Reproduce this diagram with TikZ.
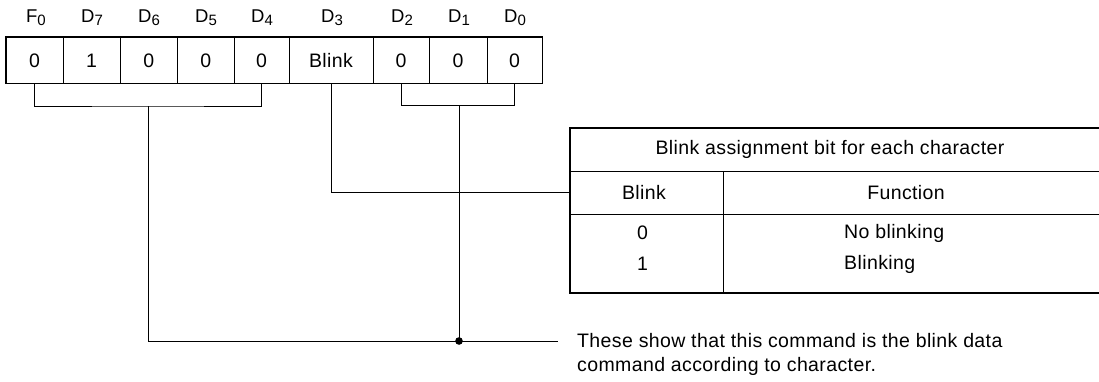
\documentclass[tikz,border=0pt]{standalone}
\usepackage{fontspec}
\setmainfont{Liberation Sans}[LetterSpace=2]
\newcommand\bitlbl[2]{#1\raisebox{-2.8pt}{\fontsize{15}{15}\selectfont #2}}
\begin{document}
\begin{tikzpicture}[x=1pt,y=-1pt,
  thin line/.style={line width=0.85pt},
  thick line/.style={line width=1.8pt},
  bitcell/.style={draw,thin line,inner sep=0pt,minimum height=45.3pt,anchor=center,font=\fontsize{19.5}{22}\selectfont},
  bitlabel/.style={inner sep=0pt,font=\fontsize{18.5}{20}\selectfont,anchor=base},
  tabtext/.style={inner sep=0pt,font=\fontsize{19.5}{22}\selectfont,anchor=center},
  conn/.style={thin line}]
\useasboundingbox (0,0) rectangle (1099,381);
% register cells
\node[bitcell,minimum width=57pt]   (c0) at (34.5,60.4) {0};
\node[bitcell,minimum width=57pt]   (c1) at (91.5,60.4) {1};
\node[bitcell,minimum width=57.5pt] (c2) at (148.75,60.4) {0};
\node[bitcell,minimum width=56.5pt] (c3) at (205.75,60.4) {0};
\node[bitcell,minimum width=55pt]   (c4) at (261.5,60.4) {0};
\node[bitcell,minimum width=84pt]   (c5) at (331,60.4) {Blink};
\node[bitcell,minimum width=56pt]   (c6) at (401,60.4) {0};
\node[bitcell,minimum width=58pt]   (c7) at (458,60.4) {0};
\node[bitcell,minimum width=55pt]   (c8) at (514.5,60.4) {0};
\draw[thick line] (c0.north west) rectangle (c8.south east);
% labels
\node[bitlabel] (l0) at (36,22.7) {\bitlbl{F}{0}};
\node[bitlabel] (l1) at (92,22.7) {\bitlbl{D}{7}};
\node[bitlabel] (l2) at (149,22.7) {\bitlbl{D}{6}};
\node[bitlabel] (l3) at (206,22.7) {\bitlbl{D}{5}};
\node[bitlabel] (l4) at (262,22.7) {\bitlbl{D}{4}};
\node[bitlabel] (l5) at (332,22.7) {\bitlbl{D}{3}};
\node[bitlabel] (l6) at (402,22.7) {\bitlbl{D}{2}};
\node[bitlabel] (l7) at (459,22.7) {\bitlbl{D}{1}};
\node[bitlabel] (l8) at (515,22.7) {\bitlbl{D}{0}};
% table
\coordinate (tnw) at (570,128);
\coordinate (tsw) at (570,293);
\draw[thin line] (570,171) -- (1099,171);
\draw[thin line] (570,214) -- (1099,214);
\draw[thin line] (723,171) -- (723,293);
\draw[thick line] (1099,128) -- (tnw) -- (tsw) -- (1099,293);
\node[tabtext] (tt) at (830,149.5) {Blink assignment bit for each character};
\node[tabtext] (hb) at (644,192.5) {Blink};
\node[tabtext] (hf) at (906,192.5) {Function};
\node[tabtext] (r0b) at (642.5,233) {0};
\node[tabtext,anchor=west] (r0f) at (844,233) {No blinking};
\node[tabtext] (r1b) at (642.5,264) {1};
\node[tabtext,anchor=west] (r1f) at (844,264) {Blinking};
% connectors
\coordinate (lb) at (148,106);
\coordinate (rb) at (459,105.5);
\coordinate (dot) at (459,341);
\coordinate (noteend) at (558,341);
\draw[conn] (c0.south) |- (lb) -| (c4.south);
\draw[conn] (c6.south) |- (rb) -| (c8.south);
\draw[conn] (c5.south) |- (tsw |- hb.west);
\draw[conn] (lb) |- (dot);
\draw[conn] (rb) -- (dot);
\draw[conn] (dot) -- (noteend);
\fill (dot) circle (3.8pt);
\node[inner sep=0pt,anchor=north west,align=left,font=\fontsize{19.5}{23.3}\selectfont] (note) at (577,333.5)
  {These show that this command is the blink data\\command according to character.};
\end{tikzpicture}
\end{document}
